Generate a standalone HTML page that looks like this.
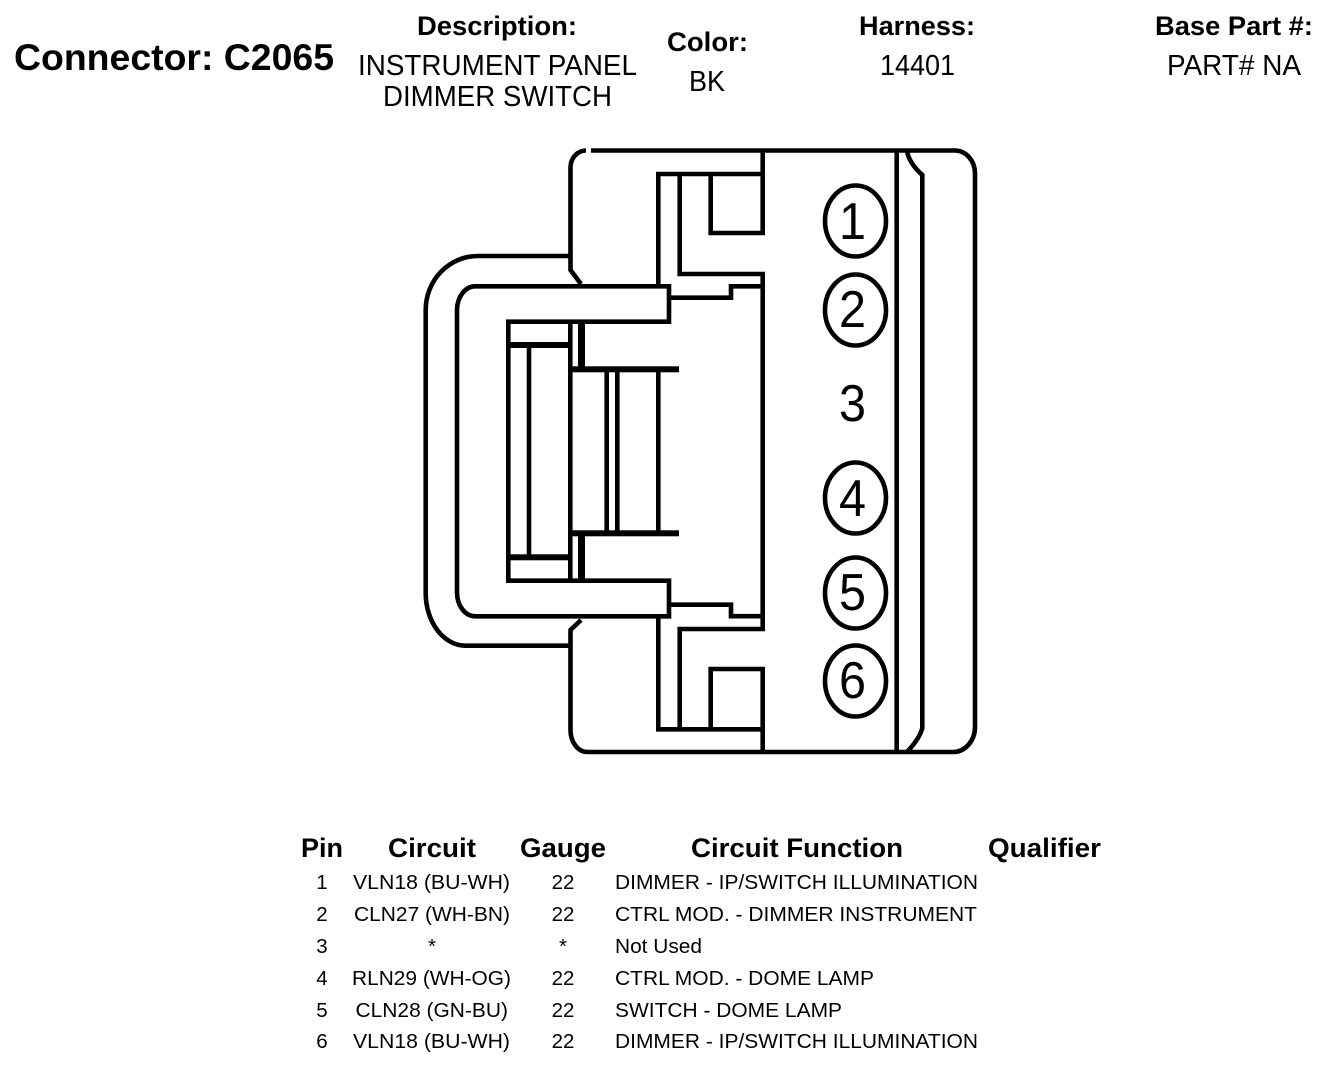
<!DOCTYPE html>
<html>
<head>
<meta charset="utf-8">
<style>
html,body{margin:0;padding:0;background:#fff;}
svg{display:block;}
text{font-family:"Liberation Sans",sans-serif;fill:#000;}
.b{font-weight:bold;}
.h{font-weight:bold;font-size:27px;}
.s{font-size:29px;}
.t{font-size:20.5px;}
.d{font-size:52px;}
.l{fill:none;stroke:#000;stroke-width:4.6;stroke-linecap:butt;stroke-linejoin:miter;}
.c{fill:none;stroke:#000;stroke-width:4.6;}
</style>
</head>
<body>
<svg width="1344" height="1074" viewBox="0 0 1344 1074" xmlns="http://www.w3.org/2000/svg">
<rect width="1344" height="1074" fill="#fff"/>

<!-- Header -->
<text class="b" x="14" y="70" font-size="37" textLength="320" lengthAdjust="spacingAndGlyphs">Connector: C2065</text>
<text class="h" x="417" y="35" textLength="160" lengthAdjust="spacingAndGlyphs">Description:</text>
<text class="s" x="358" y="75" textLength="279" lengthAdjust="spacingAndGlyphs">INSTRUMENT PANEL</text>
<text class="s" x="383" y="106" textLength="229" lengthAdjust="spacingAndGlyphs">DIMMER SWITCH</text>
<text class="h" x="667" y="51" textLength="81" lengthAdjust="spacingAndGlyphs">Color:</text>
<text class="s" x="689" y="91" textLength="36" lengthAdjust="spacingAndGlyphs">BK</text>
<text class="h" x="859" y="35" textLength="116" lengthAdjust="spacingAndGlyphs">Harness:</text>
<text class="s" x="880" y="75" textLength="75" lengthAdjust="spacingAndGlyphs">14401</text>
<text class="h" x="1155" y="35" textLength="158" lengthAdjust="spacingAndGlyphs">Base Part #:</text>
<text class="s" x="1167" y="75" textLength="134" lengthAdjust="spacingAndGlyphs">PART# NA</text>

<!-- Connector outer body -->
<g class="l">
<path d="M591 150.5H955A20 23 0 0 1 975 173V727A22 25 0 0 1 953 752H587A16.5 22 0 0 1 570.5 730V646"/>
<path d="M586 150.5A15.5 17 0 0 0 570.5 167V270L581 284"/>
<path d="M570.5 646V630L581 620"/>
<path d="M896.7 150V752"/>
<path d="M907 151Q909 163 922.3 175V728Q920 738 907 752"/>
<path d="M762.7 150V233H708.4"/>
<path d="M710.7 174V233"/>
<path d="M658.3 286V174H765"/>
<path d="M679.7 174V274H765"/>
<path d="M762.7 272V631"/>
<path d="M762.7 752V669H708.4"/>
<path d="M710.7 669V729"/>
<path d="M658.3 616V729.3H765"/>
<path d="M679.7 729V629H765"/>
<path d="M669 297.7H731V286.3H762.7"/>
<path d="M669 604.7H731V616.2H762.7"/>

<!-- Latch -->
<path d="M570 256H478A52 54 0 0 0 425.7 310V593A40 52.7 0 0 0 465 645.7H570"/>
<path d="M669 286.3H475A18 24 0 0 0 457 310V592A18 24 0 0 0 475 616.3H669V580.7H508.3V321.7H669Z"/>
<path d="M570.3 322V580"/>
<path d="M606.7 369V533"/>
<path d="M617.3 369V533"/>
<path d="M658.3 369V533"/>
<path d="M529 345V557"/>
</g>
<g fill="#000">
<rect x="508" y="342" width="62" height="6"/>
<rect x="508" y="554.3" width="62" height="6"/>
<rect x="578" y="322" width="7" height="47"/>
<rect x="578" y="533" width="7" height="48"/>
<rect x="570" y="366.3" width="109" height="6"/>
<rect x="570" y="530.3" width="109" height="6"/>
</g>

<!-- Pin circles -->
<ellipse class="c" cx="855.5" cy="221" rx="30.5" ry="35.5"/>
<ellipse class="c" cx="855.5" cy="310" rx="30.5" ry="35.5"/>
<ellipse class="c" cx="855.5" cy="498" rx="30.5" ry="35.5"/>
<ellipse class="c" cx="855.5" cy="593" rx="30.5" ry="35.5"/>
<ellipse class="c" cx="855.5" cy="681" rx="30.5" ry="35.5"/>
<text class="d" x="839" y="239" textLength="27" lengthAdjust="spacingAndGlyphs">1</text>
<text class="d" x="839" y="327" textLength="27" lengthAdjust="spacingAndGlyphs">2</text>
<text class="d" x="839" y="421" textLength="27" lengthAdjust="spacingAndGlyphs">3</text>
<text class="d" x="839" y="516" textLength="27" lengthAdjust="spacingAndGlyphs">4</text>
<text class="d" x="839" y="610" textLength="27" lengthAdjust="spacingAndGlyphs">5</text>
<text class="d" x="839" y="698" textLength="27" lengthAdjust="spacingAndGlyphs">6</text>

<!-- Table header -->
<text class="h" x="301" y="857" textLength="42" lengthAdjust="spacingAndGlyphs">Pin</text>
<text class="h" x="388" y="857" textLength="88" lengthAdjust="spacingAndGlyphs">Circuit</text>
<text class="h" x="520" y="857" textLength="86" lengthAdjust="spacingAndGlyphs">Gauge</text>
<text class="h" x="691" y="857" textLength="212" lengthAdjust="spacingAndGlyphs">Circuit Function</text>
<text class="h" x="988" y="857" textLength="113" lengthAdjust="spacingAndGlyphs">Qualifier</text>

<!-- Pin column -->
<g text-anchor="middle">
<text class="t" x="322" y="889">1</text>
<text class="t" x="322" y="921">2</text>
<text class="t" x="322" y="953">3</text>
<text class="t" x="322" y="985">4</text>
<text class="t" x="322" y="1017">5</text>
<text class="t" x="322" y="1048">6</text>
<text class="t" x="563" y="889">22</text>
<text class="t" x="563" y="921">22</text>
<text class="t" x="563" y="953">*</text>
<text class="t" x="563" y="985">22</text>
<text class="t" x="563" y="1017">22</text>
<text class="t" x="563" y="1048">22</text>
<text class="t" x="432" y="953">*</text>
</g>

<!-- Circuit column -->
<text class="t" x="353" y="889" textLength="157" lengthAdjust="spacingAndGlyphs">VLN18 (BU-WH)</text>
<text class="t" x="354" y="921" textLength="156" lengthAdjust="spacingAndGlyphs">CLN27 (WH-BN)</text>
<text class="t" x="352" y="985" textLength="159" lengthAdjust="spacingAndGlyphs">RLN29 (WH-OG)</text>
<text class="t" x="355.5" y="1017" textLength="152.5" lengthAdjust="spacingAndGlyphs">CLN28 (GN-BU)</text>
<text class="t" x="353" y="1048" textLength="157" lengthAdjust="spacingAndGlyphs">VLN18 (BU-WH)</text>

<!-- Function column -->
<text class="t" x="615" y="889" textLength="363" lengthAdjust="spacingAndGlyphs">DIMMER - IP/SWITCH ILLUMINATION</text>
<text class="t" x="615" y="921" textLength="362" lengthAdjust="spacingAndGlyphs">CTRL MOD. - DIMMER INSTRUMENT</text>
<text class="t" x="615" y="953" textLength="87" lengthAdjust="spacingAndGlyphs">Not Used</text>
<text class="t" x="615" y="985" textLength="259" lengthAdjust="spacingAndGlyphs">CTRL MOD. - DOME LAMP</text>
<text class="t" x="615" y="1017" textLength="227" lengthAdjust="spacingAndGlyphs">SWITCH - DOME LAMP</text>
<text class="t" x="615" y="1048" textLength="363" lengthAdjust="spacingAndGlyphs">DIMMER - IP/SWITCH ILLUMINATION</text>
</svg>
</body>
</html>
